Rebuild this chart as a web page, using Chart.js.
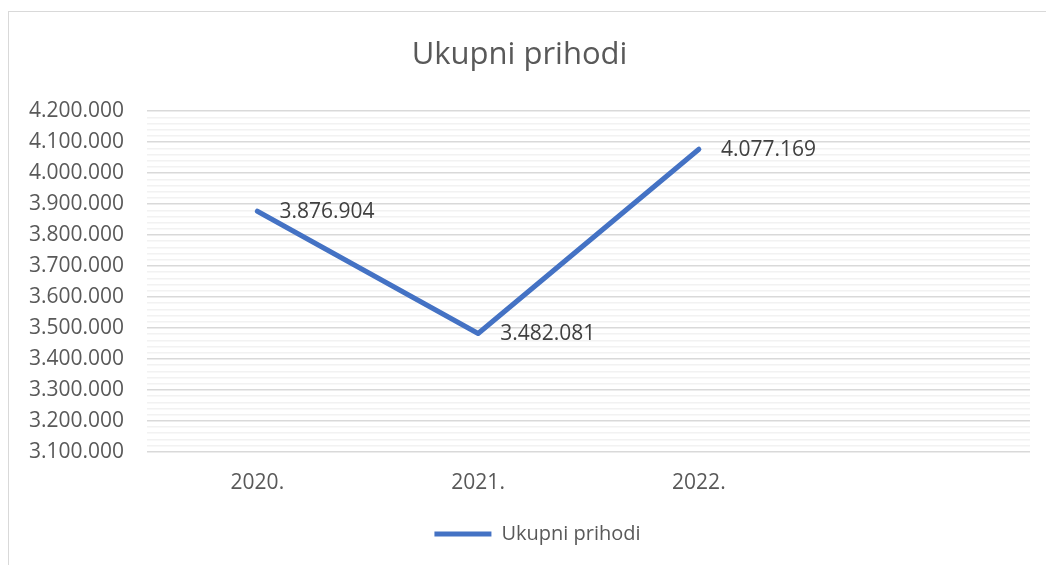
<!DOCTYPE html>
<html>
<head>
<meta charset="utf-8">
<script src="https://cdn.jsdelivr.net/npm/chart.js@4.4.0/dist/chart.umd.min.js"></script>
<style>
  html, body { margin: 0; padding: 0; background: #fff; overflow: hidden; }
  #frame {
    position: absolute; left: 8px; top: 11px; width: 1044px; height: 554px;
    border-left: 1px solid #d9d9d9; border-top: 1px solid #d9d9d9;
  }
  #chart { display: block; }
</style>
</head>
<body>
<div id="frame"><canvas id="chart" width="1044" height="554"></canvas></div>
<script>
var years = ['2020.', '2021.', '2022.', ''];
var prihodi = [3876904, 3482081, 4077169, null];
var yMin = 3100000;
var yMax = 4200000;

function fmt(v) {
  return String(Math.round(v)).replace(/\B(?=(\d{3})+(?!\d))/g, '.');
}

// labels next to points
var pointLabels = {
  id: 'pointLabels',
  afterLayout: function (chart) {
    // nudge legend a bit to the right like the original
    if (chart.legend) {
      chart.legend.left += 18;
      chart.legend.right += 18;
    }
  },
  afterDatasetsDraw: function (chart) {
    var ctx = chart.ctx;
    var meta = chart.getDatasetMeta(0);
    ctx.save();
    ctx.font = '21px "Open Sans"';
    ctx.fillStyle = '#404040';
    ctx.textAlign = 'left';
    ctx.textBaseline = 'middle';
    meta.data.forEach(function (p, i) {
      if (prihodi[i] == null) return;
      ctx.fillText(fmt(prihodi[i]), p.x + 22, p.y + 1);
    });
    ctx.restore();
  }
};

var ctx = document.getElementById('chart').getContext('2d');
new Chart(ctx, {
  type: 'line',
  data: {
    labels: years,
    datasets: [{
      label: 'Ukupni prihodi',
      data: prihodi,
      borderColor: '#4472C4',
      backgroundColor: '#4472C4',
      borderWidth: 5,
      borderCapStyle: 'round',
      borderJoinStyle: 'round',
      pointRadius: 0,
      tension: 0
    }]
  },
  options: {
    responsive: false,
    animation: false,
    layout: { padding: { left: 0, right: 23, top: 0, bottom: 12 } },
    plugins: {
      title: {
        display: true,
        text: 'Ukupni prihodi',
        color: '#595959',
        font: { family: 'Open Sans', size: 31, weight: 'normal' },
        padding: { top: 25, bottom: 37 }
      },
      legend: {
        position: 'bottom',
        labels: {
          usePointStyle: true,
          pointStyle: 'line',
          pointStyleWidth: 57,
          color: '#595959',
          font: { family: 'Open Sans', size: 20 },
          padding: 17
        }
      },
      tooltip: { enabled: false }
    },
    scales: {
      x: {
        offset: true,
        grid: { display: false },
        border: { display: false },
        ticks: {
          color: '#595959',
          font: { family: 'Open Sans', size: 21 },
          padding: 11
        }
      },
      y: {
        min: yMin,
        max: yMax,
        border: { display: false },
        grid: {
          drawTicks: false,
          lineWidth: 1.5,
          color: function (c) {
            return c.tick && c.tick.value % 100000 === 0 ? '#d9d9d9' : '#f2f2f2';
          }
        },
        ticks: {
          stepSize: 20000,
          autoSkip: false,
          padding: 23,
          color: '#595959',
          font: { family: 'Open Sans', size: 21 },
          callback: function (v) { return v % 100000 === 0 ? fmt(v) : ''; }
        },
        afterFit: function (scale) { scale.width = 138; }
      }
    }
  },
  plugins: [pointLabels]
});
</script>
</body>
</html>
